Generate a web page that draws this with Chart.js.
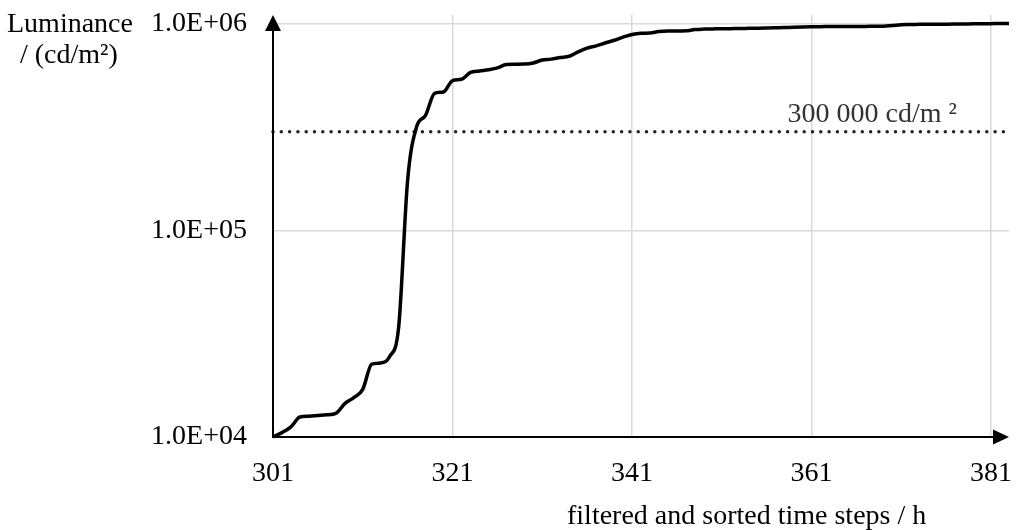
<!DOCTYPE html>
<html>
<head>
<meta charset="utf-8">
<script src="https://cdn.jsdelivr.net/npm/chart.js@4"></script>
<style>
  html, body { margin: 0; padding: 0; background: #fff; }
  #wrap { width: 1018px; height: 530px; }
</style>
</head>
<body>
<div id="wrap"><canvas id="myChart"></canvas></div>
<script>
// time steps (h) and luminance (cd/m²)
const hours = [301, 302, 303, 304, 305, 306, 307, 308, 309, 310,
  311, 312, 313, 314, 315, 316, 317, 318, 319, 320,
  321, 322, 323, 324, 325, 326, 327, 328, 329, 330,
  331, 332, 333, 334, 335, 336, 337, 338, 339, 340,
  341, 342, 343, 344, 345, 346, 347, 348, 349, 350,
  351, 352, 353, 354, 355, 356, 357, 358, 359, 360,
  361, 362, 363, 364, 365, 366, 367, 368, 369, 370,
  371, 372, 373, 374, 375, 376, 377, 378, 379, 380,
  381, 382, 383];
const luminance = [1.00e4, 1.05e4, 1.12e4, 1.25e4, 1.26e4, 1.27e4, 1.28e4, 1.30e4, 1.45e4, 1.55e4,
  1.70e4, 2.25e4, 2.28e4, 2.45e4, 3.4e4, 1.75e5, 3.17e5, 3.6e5, 4.6e5, 4.67e5,
  5.3e5, 5.38e5, 5.8e5, 5.9e5, 5.98e5, 6.1e5, 6.34e5, 6.36e5, 6.37e5, 6.45e5,
  6.66e5, 6.73e5, 6.85e5, 6.95e5, 7.3e5, 7.6e5, 7.8e5, 8.05e5, 8.3e5, 8.6e5,
  8.85e5, 8.97e5, 9.0e5, 9.15e5, 9.2e5, 9.2e5, 9.22e5, 9.35e5, 9.4e5, 9.42e5,
  9.44e5, 9.45e5, 9.46e5, 9.48e5, 9.5e5, 9.52e5, 9.54e5, 9.56e5, 9.6e5, 9.63e5,
  9.65e5, 9.66e5, 9.67e5, 9.68e5, 9.68e5, 9.69e5, 9.69e5, 9.7e5, 9.7e5, 9.78e5,
  9.88e5, 9.9e5, 9.91e5, 9.92e5, 9.92e5, 9.93e5, 9.94e5, 9.95e5, 9.97e5, 9.98e5,
  9.99e5, 1.0e6, 1.0e6];

const threshold = 300000;
const thresholdLabel = '300 000 cd/m \u00b2';

const xTicks = [301, 321, 341, 361, 381];
const yTicks = [1e4, 1e5, 1e6];
const yTickLabels = ['1.0E+04', '1.0E+05', '1.0E+06'];

const yTitle = ['Luminance', '/ (cd/m\u00b2)'];
const xTitle = 'filtered and sorted time steps / h';

const FONT = '"Liberation Serif", "Times New Roman", serif';

// no extra room for half labels at the ends of the axes
const noPad = s => { s.paddingTop = 0; s.paddingBottom = 0; s.paddingLeft = 0; s.paddingRight = 0; };

// arrows for both axes + the free texts
const decoPlugin = {
  id: 'deco',
  afterDatasetsDraw(chart) {
    const {ctx, chartArea: a} = chart;
    ctx.save();
    ctx.strokeStyle = '#000';
    ctx.fillStyle = '#000';
    ctx.lineWidth = 2;
    // x axis
    ctx.beginPath();
    ctx.moveTo(a.left, a.bottom);
    ctx.lineTo(a.right - 14, a.bottom);
    ctx.stroke();
    ctx.beginPath();
    ctx.moveTo(a.right, a.bottom);
    ctx.lineTo(a.right - 16, a.bottom - 7.5);
    ctx.lineTo(a.right - 16, a.bottom + 7.5);
    ctx.closePath();
    ctx.fill();
    // y axis
    ctx.beginPath();
    ctx.moveTo(a.left, a.bottom + 1);
    ctx.lineTo(a.left, a.top + 14);
    ctx.stroke();
    ctx.beginPath();
    ctx.moveTo(a.left, a.top);
    ctx.lineTo(a.left - 8, a.top + 16);
    ctx.lineTo(a.left + 8, a.top + 16);
    ctx.closePath();
    ctx.fill();

    ctx.font = '28px ' + FONT;
    ctx.textBaseline = 'alphabetic';
    ctx.textAlign = 'left';
    ctx.fillStyle = '#000';
    ctx.fillText(yTitle[0], 7, 32);
    ctx.fillText(yTitle[1], 20, 63);
    ctx.fillText(xTitle, 567, 524);

    const yThr = chart.scales.y.getPixelForValue(threshold);
    ctx.fillStyle = '#333';
    ctx.textAlign = 'right';
    ctx.fillText(thresholdLabel, 957, yThr - 10);
    ctx.restore();
  }
};

new Chart(document.getElementById('myChart'), {
  type: 'line',
  data: {
    datasets: [{
      data: hours.map((h, i) => ({x: h, y: luminance[i]})),
      borderColor: '#000',
      borderWidth: 3.5,
      pointRadius: 0,
      cubicInterpolationMode: 'monotone',
      clip: false
    }, {
      data: [{x: hours[0], y: threshold}, {x: hours[hours.length - 1], y: threshold}],
      borderColor: '#222',
      borderWidth: 3.5,
      borderDash: [0, 8.3],
      borderCapStyle: 'round',
      pointRadius: 0,
      clip: false
    }]
  },
  options: {
    responsive: true,
    maintainAspectRatio: false,
    animation: false,
    layout: { padding: { top: 15, right: 9, left: 0, bottom: 0 } },
    plugins: { legend: { display: false }, tooltip: { enabled: false } },
    scales: {
      x: {
        type: 'linear',
        min: 301,
        max: 383,
        afterBuildTicks: s => { s.ticks = xTicks.map(v => ({value: v})); },
        afterFit: s => { s.height = 93; noPad(s); },
        border: { display: false },
        grid: {
          drawTicks: false,
          lineWidth: 1.5,
          color: c => (c.tick && c.tick.value === 301) ? 'rgba(0,0,0,0)' : '#d9d9d9'
        },
        ticks: {
          font: { family: FONT, size: 28 },
          color: '#000',
          padding: 20,
          maxRotation: 0,
          autoSkip: false
        }
      },
      y: {
        type: 'logarithmic',
        min: 1e4,
        max: 1.1e6,
        afterBuildTicks: s => { s.ticks = yTicks.map(v => ({value: v})); },
        afterFit: s => { s.width = 273; noPad(s); },
        border: { display: false },
        grid: {
          drawTicks: false,
          lineWidth: 1.5,
          color: c => (c.tick && c.tick.value === 1e4) ? 'rgba(0,0,0,0)' : '#d9d9d9'
        },
        ticks: {
          font: { family: FONT, size: 28 },
          color: '#000',
          padding: 26,
          autoSkip: false,
          callback: (v, i) => yTickLabels[i]
        }
      }
    }
  },
  plugins: [decoPlugin]
});
</script>
</body>
</html>
